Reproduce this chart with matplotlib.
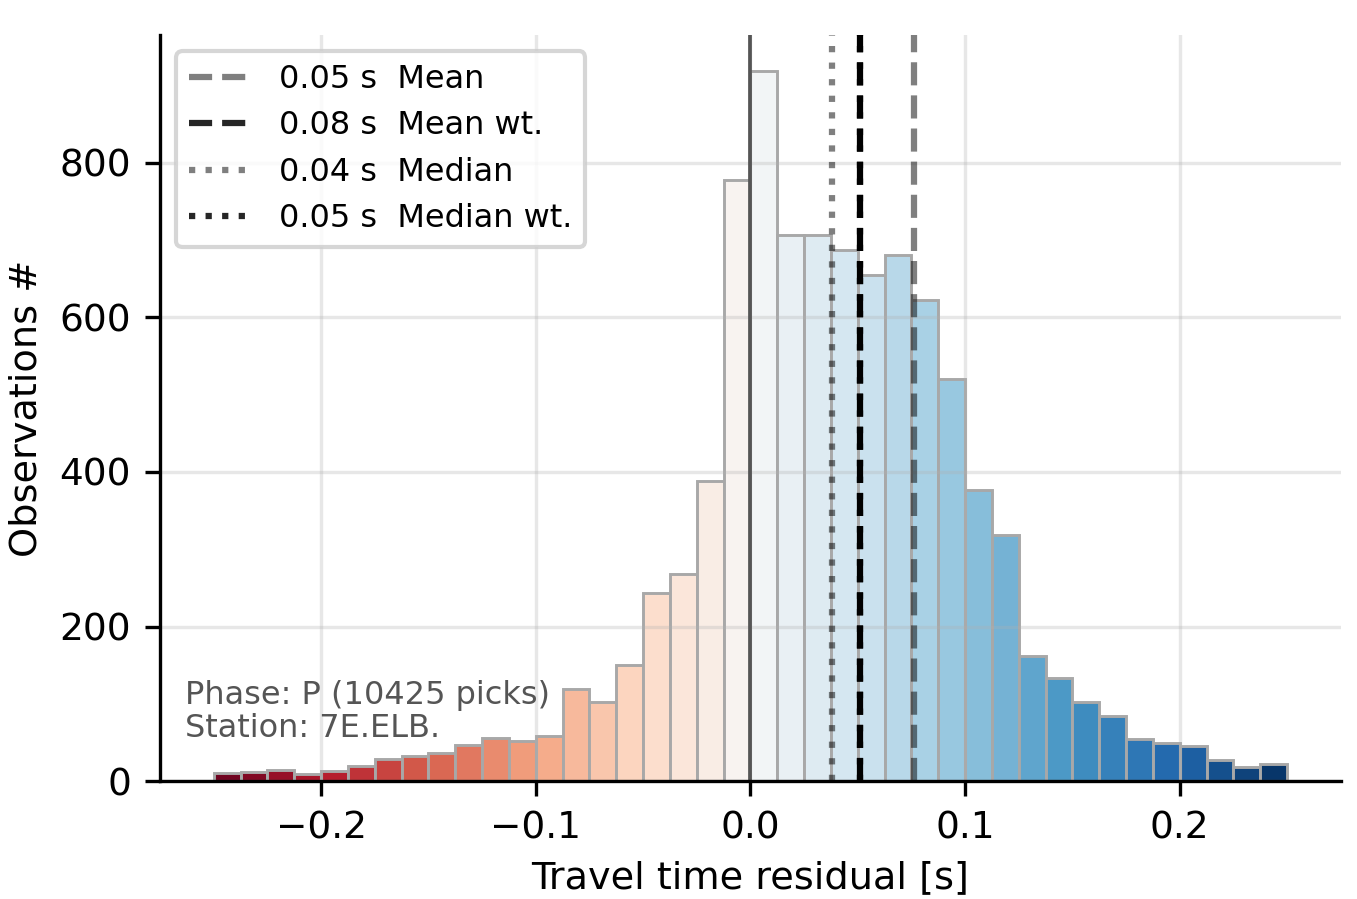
import numpy as np
import matplotlib
matplotlib.use("Agg")
import matplotlib.pyplot as plt
from matplotlib.lines import Line2D
from matplotlib.colors import Normalize

# Histogram data (counts per bin, bins of 0.0125 s from -0.25 to 0.25)
bin_edges = np.linspace(-0.25, 0.25, 41)
counts = [10, 12, 15, 9, 13, 20, 29, 32, 37, 47,
          56, 52, 58, 119, 103, 150, 243, 268, 388, 777,
          918, 707, 706, 687, 655, 681, 623, 520, 377, 319,
          162, 133, 103, 85, 54, 50, 46, 28, 19, 22]

# Statistic lines as drawn
line_pos = [0.038, 0.051, 0.051, 0.076]
line_styles = [':', ':', '--', '--']
line_alpha = [0.5, 1.0, 1.0, 0.5]

legend_labels = ["0.05 s  Mean", "0.08 s  Mean wt.", "0.04 s  Median", "0.05 s  Median wt."]
legend_styles = ['--', '--', ':', ':']
legend_alpha = [0.5, 0.85, 0.5, 0.85]

info_text = "Phase: P (10425 picks)\nStation: 7E.ELB."

fig, ax = plt.subplots(figsize=(1357/300, 899/300), dpi=300)

centers = 0.5 * (bin_edges[:-1] + bin_edges[1:])
norm = Normalize(-0.25, 0.25)
cmap = plt.get_cmap('RdBu')
colors = [cmap(norm(c)) for c in centers]
ax.bar(bin_edges[:-1], counts, width=np.diff(bin_edges), align='edge',
       color=colors, edgecolor='#a8a8a8', linewidth=0.7)

ax.axvline(0, color='#555555', lw=0.9)
for p, ls, a in zip(line_pos, line_styles, line_alpha):
    ax.axvline(p, color='k', ls=ls, lw=1.5, alpha=a)

handles = [Line2D([0], [0], color='k', ls=ls, lw=1.5, alpha=a)
           for ls, a in zip(legend_styles, legend_alpha)]
ax.legend(handles, legend_labels, loc='upper left', fontsize=7.7,
          labelspacing=0.48)

ax.text(0.021, 0.050, info_text, transform=ax.transAxes, color='#555555',
        fontsize=7.7, va='bottom', ha='left', linespacing=1.1)

ax.grid(True, color='#b0b0b0', alpha=0.3, lw=0.8)
ax.spines['top'].set_visible(False)
ax.spines['right'].set_visible(False)
ax.set_xlabel("Travel time residual [s]", fontsize=9.2, labelpad=3.2)
ax.set_ylabel("Observations #", fontsize=9.2, labelpad=3.5)
ax.tick_params(labelsize=9)
ax.set_xticks([-0.2, -0.1, 0.0, 0.1, 0.2])
ax.set_yticks([0, 200, 400, 600, 800])
ax.set_ylim(0, 965)
ax.set_xlim(-0.275, 0.275)

fig.subplots_adjust(left=0.118, right=0.988, bottom=0.131, top=0.961)
fig.savefig("out.png", dpi=300)
